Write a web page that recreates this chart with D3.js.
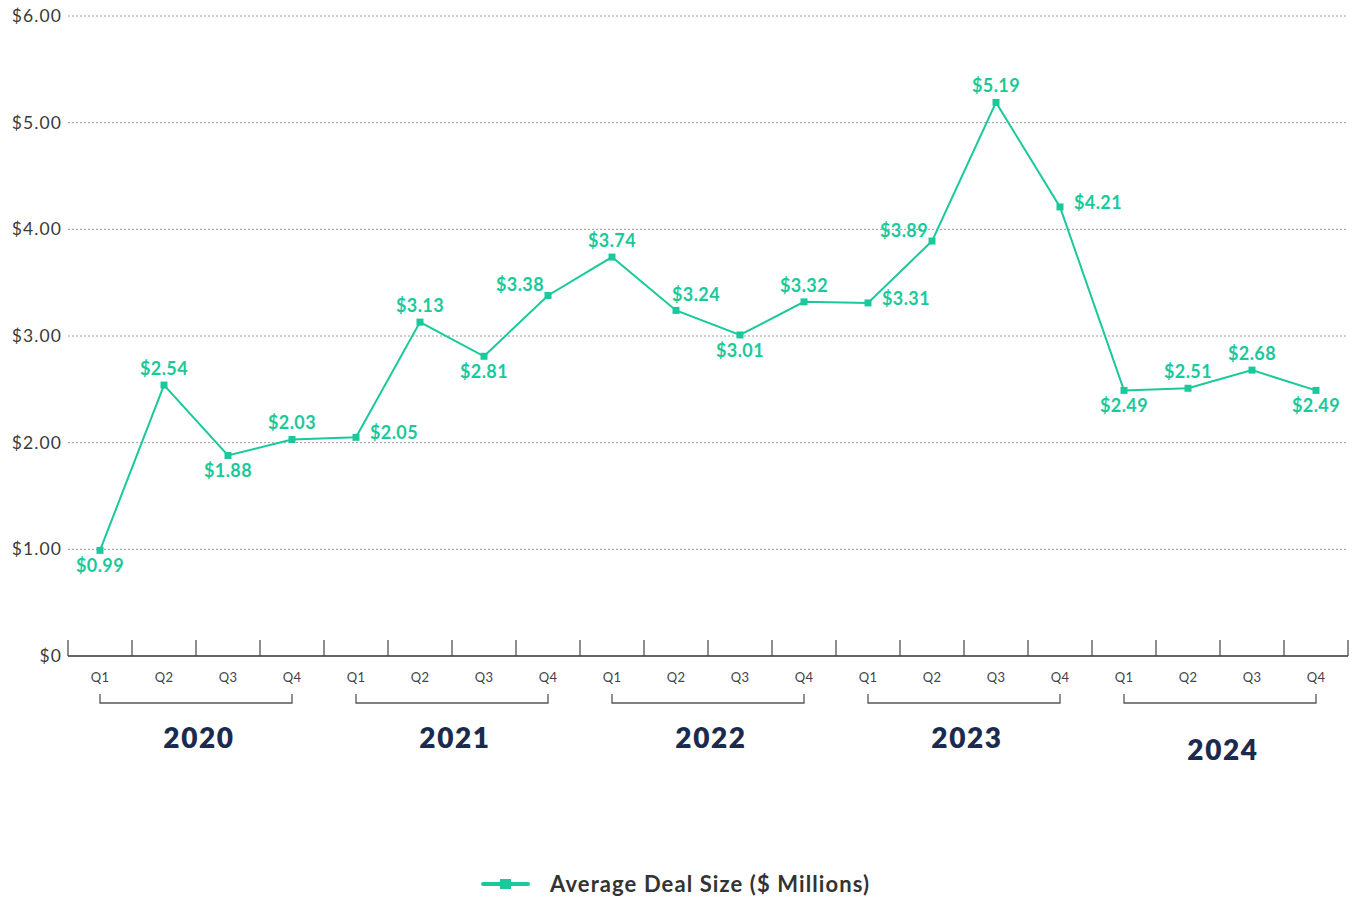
<!DOCTYPE html>
<html>
<head>
<meta charset="utf-8">
<script src="https://cdn.jsdelivr.net/npm/d3@7"></script>
<style>
  html, body { margin: 0; padding: 0; background: #fff; }
  svg { display: block; font-family: Lato, "Noto Sans", sans-serif; }
</style>
</head>
<body>
<svg id="chart" width="1355" height="898"></svg>
<script>
// Quarterly average deal size, $ millions
const years = ["2020", "2021", "2022", "2023", "2024"];
const quarters = ["Q1", "Q2", "Q3", "Q4"];
const dealSize = [
  0.99, 2.54, 1.88, 2.03,
  2.05, 3.13, 2.81, 3.38,
  3.74, 3.24, 3.01, 3.32,
  3.31, 3.89, 5.19, 4.21,
  2.49, 2.51, 2.68, 2.49
];
// where each value label sits relative to its point
const labelSide = [
  "below", "above", "below", "above",
  "right", "above", "below", "upleft",
  "above", "upright", "below", "above",
  "right", "upleft", "above", "right",
  "below", "above", "above", "below"
];
const yTicks = [0, 1, 2, 3, 4, 5, 6];
const seriesName = "Average Deal Size ($ Millions)";

const green = "#19c99b";
const svg = d3.select("#chart");

const periods = [];
years.forEach(y => quarters.forEach(q => periods.push(y + "-" + q)));
const data = periods.map((p, i) => ({ key: p, year: p.split("-")[0], q: p.split("-")[1], value: dealSize[i], side: labelSide[i] }));

const x = d3.scaleBand().domain(periods).range([68, 1348]).paddingInner(0).paddingOuter(0);
const y = d3.scaleLinear().domain([0, 6]).range([656, 16]);
const cx = d => x(d.key) + x.bandwidth() / 2;

// dotted gridlines
svg.append("g")
  .selectAll("line")
  .data(yTicks.filter(t => t > 0))
  .join("line")
  .attr("x1", 68).attr("x2", 1348)
  .attr("y1", d => y(d)).attr("y2", d => y(d))
  .attr("stroke", "#9a9a9a").attr("stroke-width", 1)
  .attr("stroke-dasharray", "2,2");

// y tick labels
svg.append("g")
  .selectAll("text")
  .data(yTicks)
  .join("text")
  .attr("x", 62).attr("y", d => y(d))
  .attr("dy", "0.35em")
  .attr("text-anchor", "end")
  .attr("font-size", 17.5)
  .attr("letter-spacing", 1.1)
  .attr("fill", "#3a3a3a")
  .text(d => d === 0 ? "$0" : "$" + d3.format(".2f")(d));

// x axis baseline with upward band ticks
const axisG = svg.append("g");
axisG.append("line")
  .attr("x1", 68).attr("x2", 1348)
  .attr("y1", y(0)).attr("y2", y(0))
  .attr("stroke", "#333").attr("stroke-width", 1.5);
const edges = periods.map(p => x(p)).concat([x.range()[1]]);
axisG.selectAll("line.tick")
  .data(edges)
  .join("line")
  .attr("class", "tick")
  .attr("x1", d => d).attr("x2", d => d)
  .attr("y1", y(0) - 16).attr("y2", y(0))
  .attr("stroke", "#444").attr("stroke-width", 1.2);

// quarter labels
svg.append("g")
  .selectAll("text")
  .data(data)
  .join("text")
  .attr("x", cx).attr("y", 682)
  .attr("text-anchor", "middle")
  .attr("font-size", 13)
  .attr("letter-spacing", 0.3)
  .attr("fill", "#444")
  .text(d => d.q);

// year brackets and labels
const yearG = svg.append("g");
years.forEach((yr, i) => {
  const first = cx(data.find(d => d.year === yr && d.q === "Q1"));
  const last = cx(data.find(d => d.year === yr && d.q === "Q4"));
  yearG.append("path")
    .attr("d", `M${first},694 V703 H${last} V694`)
    .attr("fill", "none").attr("stroke", "#555").attr("stroke-width", 1.3);
  yearG.append("text")
    .attr("x", (first + last) / 2 + 3)
    .attr("y", i === years.length - 1 ? 760 : 748)
    .attr("text-anchor", "middle")
    .attr("font-size", 28).attr("font-weight", 800)
    .attr("letter-spacing", 1.6)
    .attr("fill", "#1b2b4f")
    .text(yr);
});

// series line
svg.append("path")
  .datum(data)
  .attr("d", d3.line().x(cx).y(d => y(d.value)))
  .attr("fill", "none").attr("stroke", green).attr("stroke-width", 2);

// square markers
svg.append("g")
  .selectAll("rect")
  .data(data)
  .join("rect")
  .attr("x", d => cx(d) - 3.5).attr("y", d => y(d.value) - 3.5)
  .attr("width", 7).attr("height", 7)
  .attr("fill", green);

// value labels
const place = {
  above:   { dx: 0,   dy: -10, anchor: "middle" },
  below:   { dx: 0,   dy: 22,  anchor: "middle" },
  right:   { dx: 14,  dy: 2,   anchor: "start" },
  upleft:  { dx: -4,  dy: -4,  anchor: "end" },
  upright: { dx: 20,  dy: -9,  anchor: "middle" }
};
svg.append("g")
  .selectAll("text")
  .data(data)
  .join("text")
  .attr("x", d => cx(d) + place[d.side].dx)
  .attr("y", d => y(d.value) + place[d.side].dy)
  .attr("text-anchor", d => place[d.side].anchor)
  .attr("font-size", 18).attr("font-weight", 700)
  .attr("letter-spacing", 0.4)
  .attr("fill", green)
  .text(d => "$" + d3.format(".2f")(d.value));

// legend
const lg = svg.append("g").attr("transform", "translate(483,884)");
lg.append("line").attr("x1", 0).attr("x2", 45).attr("y1", 0).attr("y2", 0)
  .attr("stroke", green).attr("stroke-width", 4).attr("stroke-linecap", "round");
lg.append("rect").attr("x", 17).attr("y", -5).attr("width", 11).attr("height", 10).attr("fill", green);
lg.append("text").attr("x", 67).attr("y", 0).attr("dy", "0.35em")
  .attr("font-size", 22).attr("font-weight", 700)
  .attr("letter-spacing", 1.1)
  .attr("fill", "#333")
  .text(seriesName);
</script>
</body>
</html>
